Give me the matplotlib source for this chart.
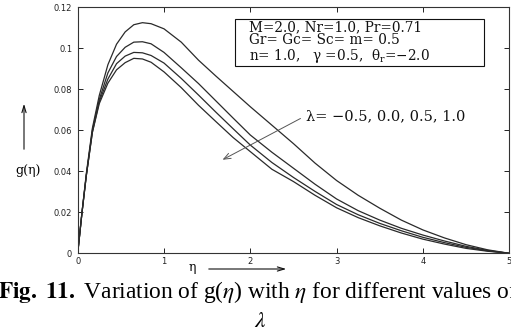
import matplotlib
matplotlib.use('Agg')
import matplotlib.pyplot as plt
from matplotlib.patches import Rectangle

plt.rcParams['mathtext.fontset'] = 'dejavuserif'

# eta grid and g(eta), one list per lambda
eta = [0, 0.05, 0.1, 0.17, 0.25, 0.35, 0.45, 0.55, 0.65, 0.75, 0.85, 1.0,
       1.2, 1.4, 1.6, 1.8, 2.0, 2.25, 2.5, 2.75, 3.0, 3.25, 3.5, 3.75, 4.0,
       4.25, 4.5, 4.75, 5.0]
g_m05 = [0, 0.020, 0.039, 0.061, 0.077, 0.092, 0.102, 0.108, 0.1115, 0.1125,
         0.112, 0.1095, 0.103, 0.0942, 0.0865, 0.079, 0.0715, 0.0625, 0.0535,
         0.044, 0.0355, 0.0283, 0.022, 0.0162, 0.0114, 0.0075, 0.0042, 0.0017, 0]
g_00 = [0, 0.020, 0.038, 0.060, 0.075, 0.088, 0.096, 0.1005, 0.103, 0.1032,
        0.1022, 0.098, 0.0905, 0.0828, 0.0744, 0.066, 0.0577, 0.0493, 0.0415,
        0.0337, 0.0265, 0.0208, 0.0162, 0.0122, 0.0089, 0.006, 0.0034, 0.0014, 0]
g_05 = [0, 0.020, 0.038, 0.059, 0.074, 0.085, 0.0925, 0.0962, 0.098, 0.0978,
        0.0965, 0.0928, 0.0853, 0.0772, 0.0689, 0.0608, 0.0528, 0.0443, 0.037,
        0.0302, 0.0238, 0.0188, 0.0146, 0.011, 0.0078, 0.0052, 0.0029, 0.0012, 0]
g_10 = [0, 0.020, 0.038, 0.059, 0.073, 0.083, 0.0895, 0.093, 0.0951, 0.0948,
        0.0932, 0.0885, 0.0808, 0.0722, 0.0643, 0.0565, 0.0496, 0.041, 0.035,
        0.0283, 0.0222, 0.0174, 0.0134, 0.0099, 0.0069, 0.0045, 0.0024, 0.001, 0]
curves = [g_m05, g_00, g_05, g_10]

params = ['M=2.0, Nr=1.0, Pr=0.71',
          'Gr= Gc= Sc= m= 0.5',
          r'n= 1.0,   γ =0.5,  θ$_{\rm r}$=−2.0']
lam_text = 'λ= −0.5, 0.0, 0.5, 1.0'

W, H = 511, 331
fig = plt.figure(figsize=(W / 100, H / 100), dpi=100)
ax = fig.add_axes([77.7 / W, 1 - 253.3 / H, 431.5 / W, 246 / H])

for g in curves:
    ax.plot(eta, g, color='#2a2a2a', lw=0.9)

ax.set_xlim(0, 5)
ax.set_ylim(0, 0.12)
ax.set_xticks([0, 1, 2, 3, 4, 5])
ax.set_yticks([0, 0.02, 0.04, 0.06, 0.08, 0.1, 0.12])
ax.set_yticklabels(['0', '0.02', '0.04', '0.06', '0.08', '0.1', '0.12'])
ax.tick_params(direction='in', length=3.5, width=0.7, top=True, right=True,
               labelsize=6, colors='#222')
ax.tick_params(axis='x', pad=2.5)
ax.tick_params(axis='y', pad=4)
for s in ax.spines.values():
    s.set_linewidth(0.8)
    s.set_color('#333')

# parameter box
ax.add_patch(Rectangle((1.826, 0.0915), 2.884, 0.0226, fill=False,
                       edgecolor='#111', lw=0.8))
ax.text(1.99, 0.1029, '\n'.join(params), family='DejaVu Serif',
        fontsize=9.8, va='center', ha='left', color='#111', linespacing=0.95)

# lambda label with arrow
ax.annotate('', xy=(1.65, 0.0450), xytext=(2.61, 0.0664),
            arrowprops=dict(arrowstyle='->,head_length=0.5,head_width=0.2',
                            color='#555', lw=0.7))
ax.text(2.64, 0.0667, lam_text, family='DejaVu Serif', fontsize=10.5,
        va='center', ha='left', color='#111')

# axis labels with arrows
fig.text(28 / W, 1 - 170 / H, 'g(η)', family='DejaVu Serif',
         fontsize=9, ha='center', va='center')
fig.add_artist(plt.Annotation('', xy=(24 / W, 1 - 101 / H),
                              xytext=(24 / W, 1 - 152 / H),
                              xycoords='figure fraction',
                              arrowprops=dict(arrowstyle='->,head_length=0.5,head_width=0.15',
                                              color='#111', lw=0.8)))
fig.text(192 / W, 1 - 268 / H, 'η', family='DejaVu Serif', fontsize=9,
         ha='center', va='center')
fig.add_artist(plt.Annotation('', xy=(289 / W, 1 - 269 / H),
                              xytext=(206 / W, 1 - 269 / H),
                              xycoords='figure fraction',
                              arrowprops=dict(arrowstyle='->,head_length=0.5,head_width=0.15',
                                              color='#111', lw=0.8)))

# caption (cut at both edges, as in the source figure)
plt.rcParams['mathtext.fontset'] = 'stix'
fig.text(-2 / W, 1 - 298 / H,
         r'$\mathbf{Fig.\ 11.}$ Variation of g($\eta$) with $\eta$ for different values of',
         family='Liberation Serif', fontsize=16.8, ha='left', va='baseline')
fig.text(260 / W, 1 - 327 / H, r'$\lambda$', fontsize=16.8, ha='center',
         va='baseline')

fig.savefig('out.png', dpi=100)
